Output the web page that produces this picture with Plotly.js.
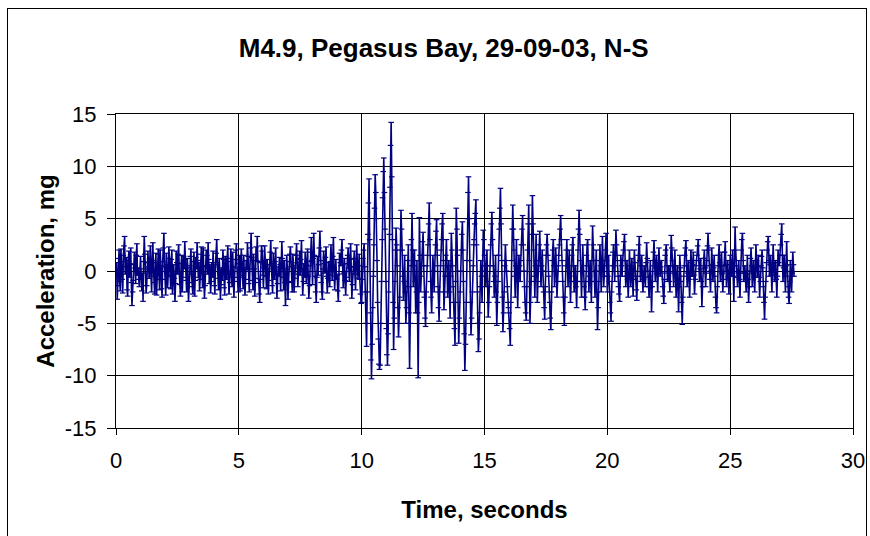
<!DOCTYPE html>
<html>
<head>
<meta charset="utf-8">
<script src="https://cdn.plot.ly/plotly-3.0.1.min.js"></script>
<style>
  html, body { margin: 0; padding: 0; background: #fff; }
  #wrap { position: relative; width: 870px; height: 536px; }
  #chart { width: 870px; height: 536px; }
  #frame { position: absolute; left: 7px; top: 8px; width: 858px; height: 540px; border: 1px solid #000; pointer-events: none; }
</style>
</head>
<body>
<div id="wrap">
  <div id="chart"></div>
  <div id="frame"></div>
</div>
<script>
// Sampling interval of the record (seconds) and start time
const sampleInterval = 0.025;
const startTime = 0;

// Acceleration (mg), one array per second of record
const acc00 = [-0.5, 0.8, -2.7, -1.4, 1.2, 2.0, -1.0, -1.9, 2.1, 0.9, -0.8, -2.1, 1.5, 2.4, 3.3, -0.3, 0.4, 1.3, -1.8, -2.4, 1.0, 1.9, -0.6, 0.7, 2.2, -1.1, -3.3, -2.0, -0.9, 0.6, 1.8, 0.3, -1.2, 1.5, 2.6, -0.4, 0.3, -0.8, -1.5, 0.2];
const acc01 = [1.4, -0.6, -1.9, -0.2, -2.9, 0.9, 3.3, 1.6, 0.2, -2.1, -1.4, 0.8, 1.9, 0.4, -0.7, 1.1, 2.4, -0.5, -2.0, 1.0, 2.7, 0.2, -1.1, -2.2, 0.8, 1.7, -2.3, -0.8, 1.6, 2.1, -0.4, -1.8, 2.0, 0.5, -1.7, -2.5, 0.9, 2.2, 3.6, 0.4];
const acc02 = [-0.8, -2.3, 1.7, 0.6, -1.6, -0.4, 2.3, 1.2, -0.5, -1.7, 1.1, 2.0, -2.2, -1.0, 0.6, -0.7, -2.9, -1.2, 1.9, 0.8, -0.3, 1.6, 2.5, -0.2, -1.3, -2.4, 0.7, 1.5, -2.0, -0.6, 1.4, 0.2, 2.8, 1.1, -0.9, -2.0, 1.2, 0.3, -2.9, -1.1];
const acc03 = [0.5, 1.4, 2.1, -0.3, -1.5, -2.2, 0.9, 1.8, -2.4, -0.9, 1.3, 0.2, 2.7, 1.0, -0.6, 0.8, -1.9, -0.8, 1.6, 2.3, -0.2, -1.6, 2.2, 0.5, -2.6, -1.4, 0.4, 2.0, 1.5, -0.3, 2.7, 1.1, -1.2, 0.6, -2.1, -1.0, 0.8, -0.6, 1.9, 0.4];
const acc04 = [-1.4, -2.2, 0.6, 1.7, 3.0, 0.8, -0.7, -1.8, 1.2, 0.1, -2.7, -1.3, 0.3, -0.9, 2.0, 1.1, -1.6, -2.3, 1.4, 0.5, -0.8, 1.2, 2.4, -0.6, -2.2, -1.1, 0.9, 2.1, -0.3, -1.5, 1.8, 0.4, -2.5, -0.6, 1.1, 2.0, 2.6, 0.3, -1.0, -2.0];
const acc05 = [0.7, 1.5, -1.9, -0.6, 2.1, 0.9, -0.4, -1.7, 1.5, 0.3, -2.3, -0.8, 1.0, 0.1, 2.7, 1.4, -1.2, -2.0, 0.2, 2.2, 3.6, 1.3, -0.9, -1.8, 1.6, 0.2, -2.4, -0.7, 2.3, 1.0, 3.3, 0.9, -1.1, -2.2, -3.0, -0.8, 0.8, 2.4, 1.9, -0.4];
const acc06 = [-1.6, 0.3, 2.4, 1.0, -0.5, -1.7, 1.1, 0.2, -2.2, -0.9, 0.6, 1.8, 2.9, 0.5, -1.4, -2.1, 1.7, 0.7, -0.8, 0.9, 2.2, -0.4, -2.6, -1.2, 0.4, -0.5, 1.3, 0.6, -1.9, 0.4, 2.8, 1.2, -0.6, -1.8, 1.0, -1.1, -3.3, -0.7, 1.5, 0.2];
const acc07 = [-2.7, -1.0, 0.9, 1.6, 2.3, 0.4, -1.1, -2.0, 1.6, 0.5, -2.0, -0.7, 0.3, 1.5, 2.6, 0.8, -1.5, -0.3, 1.2, 1.9, -0.4, 1.1, 2.9, 0.2, -2.3, -1.0, 0.7, -0.6, 1.8, 0.6, -1.2, 0.9, 2.1, -0.5, -2.6, -1.4, 0.5, 1.8, 3.2, 1.0];
const acc08 = [-1.3, 1.2, 3.6, 1.5, -0.5, -2.0, -3.0, -0.6, 1.4, -0.4, 0.6, 2.2, 3.8, 1.0, -1.1, -2.0, -2.7, 0.2, 1.9, 0.7, -0.2, 1.3, 2.3, -0.5, -2.1, -0.7, 0.8, -0.4, -1.5, 0.9, 2.5, 0.6, -0.9, 1.4, 3.2, 0.3, -1.8, -0.5, 1.1, -0.8];
const acc09 = [-0.4, -1.9, -2.9, -0.3, 1.7, 0.8, 0.5, 2.0, 3.0, 0.6, -1.6, -0.2, 1.2, -0.9, -2.3, -0.6, 0.7, 1.5, 2.2, 0.3, -1.0, 1.1, 2.6, 0.4, -2.6, -1.3, 0.4, 1.2, 1.9, -0.3, -1.8, 0.7, 2.5, 0.6, -0.7, 0.5, 1.6, -0.8, -2.2, -3.1];
const acc10 = [-3.0, -0.8, 1.2, 2.0, 2.6, 0.4, -2.0, -5.0, -7.2, -2.0, 3.5, 6.5, 8.8, 3.0, -4.0, -8.5, -10.3, -7.0, -3.5, -0.5, 2.5, 6.0, 9.2, 7.5, 5.0, 1.0, -3.0, -6.5, -8.9, -9.4, -9.0, -5.0, -1.0, 3.0, 7.0, 9.5, 10.8, 7.5, 4.0, -1.0];
const acc11 = [-5.5, -8.0, -9.0, -6.0, -2.0, 3.5, 8.0, 12.0, 14.2, 9.0, 3.0, -3.0, -7.5, -4.5, -1.0, 2.0, 4.1, 2.5, 0.5, -3.5, -6.3, -5.0, -2.5, 2.0, 5.8, 4.0, 2.0, -0.5, -2.8, -1.0, 1.5, -2.0, -5.0, -3.5, -1.5, 1.0, 2.5, -4.0, -9.3, -5.0];
const acc12 = [0.5, 3.0, 5.5, 2.0, -1.5, 0.5, 2.0, -1.0, -4.0, -2.0, 1.0, -4.0, -10.2, -3.0, 5.1, 1.5, -2.0, -0.5, 1.5, 2.8, 3.7, 0.5, -2.5, -4.5, -5.3, -2.0, 0.5, 1.5, 2.5, 4.5, 6.5, 3.0, -1.0, -2.5, -4.0, -1.0, 1.5, 0.0, -2.0, 0.5];
const acc13 = [2.5, 3.8, 4.9, 1.5, -1.5, -3.5, -4.8, -2.0, 0.5, 2.0, 3.0, 4.5, 5.5, 1.0, -3.7, -2.0, -0.5, 1.5, 3.0, 0.5, -2.5, -0.5, 1.0, -2.0, -4.5, -0.5, 3.6, 2.0, 0.5, -1.5, -3.0, -5.5, -7.1, -1.0, 6.0, 4.0, 1.5, -3.0, -6.9, -4.5];
const acc14 = [-2.0, 0.0, 2.0, 3.5, 4.7, 2.0, -1.0, -6.0, -9.5, -7.0, -3.0, 1.0, 5.0, 7.5, 9.0, 5.0, 1.0, -3.0, -6.1, -4.5, -2.0, 0.5, 2.5, 3.0, 4.5, 5.5, 6.8, 2.5, -2.0, -5.0, -7.7, -6.5, -4.0, -1.5, 1.0, -0.5, -3.0, 0.5, 3.9, 3.0];
const acc15 = [1.5, 0.0, -1.5, 0.5, 2.0, -1.0, -4.4, -3.0, -1.5, 0.5, 2.5, 4.5, 5.6, 3.0, 0.5, -1.0, -2.5, -0.5, 1.5, -2.0, -5.2, -3.0, -1.0, 1.5, 4.0, 6.0, 7.9, 4.5, 1.0, -2.5, -5.8, -4.0, -2.0, 0.5, 2.5, 1.0, 0.0, -1.5, -3.0, -3.5];
const acc16 = [-4.0, -5.5, -7.1, -3.0, 1.0, 4.0, 6.3, 4.0, 2.0, -0.5, -2.5, 0.5, 3.0, 0.0, -3.5, -1.0, 1.5, 0.5, -1.0, 1.0, 2.5, 4.0, 5.3, 2.5, 0.0, -1.5, -3.0, -4.0, -4.7, -1.5, 2.0, 4.5, 6.3, 1.0, -5.0, -3.0, -1.0, 3.5, 7.2, 4.5];
const acc17 = [2.0, -0.5, -2.5, 0.5, 3.5, 0.5, -3.0, -1.0, 1.0, 2.5, 3.8, 1.0, -1.5, 0.5, 2.0, 0.0, -2.0, -3.5, -4.6, -1.5, 1.5, 2.5, 3.5, 1.5, -0.5, -2.0, -3.0, -4.5, -5.6, -2.0, 1.0, 2.0, 3.0, 0.5, -1.5, 0.5, 2.2, 0.0, -2.5, -1.0];
const acc18 = [0.5, 1.5, 2.5, 4.0, 5.3, 3.0, 1.0, -1.0, -2.5, -4.0, -5.2, -2.5, 0.5, 2.0, 3.0, 1.0, -1.5, 0.5, 2.0, -0.5, -3.0, -1.0, 1.5, 2.5, 3.2, 0.5, -2.0, -1.0, 0.5, -1.5, -3.5, -1.0, 2.0, 4.0, 5.8, 3.5, 1.0, -1.0, -2.5, 0.0];
const acc19 = [2.5, 0.5, -1.5, -2.5, -3.7, -1.0, 1.5, 2.5, 3.0, 0.5, -2.0, -0.5, 1.0, -1.0, -3.0, 1.0, 4.3, 2.5, 1.0, -1.0, -2.5, 0.0, 2.0, -2.0, -5.6, -3.5, -1.0, 1.0, 2.5, 0.5, -2.0, 0.5, 3.3, 1.0, -1.5, -0.5, 0.5, 2.0, 3.6, 1.0];
const acc20 = [-2.0, -0.5, 1.5, -1.0, -3.0, -4.0, -4.8, -2.0, 0.5, 1.8, 2.5, 0.5, -1.0, 1.5, 3.9, 2.5, 1.0, -0.5, -1.5, -2.2, -2.9, -0.5, 1.5, 0.5, -0.5, 1.0, 2.0, 2.8, 3.5, 1.0, -1.5, -0.5, 1.0, -0.8, -2.5, -0.5, 2.0, 0.5, -1.5, -0.3];
const acc21 = [1.2, -0.8, -2.4, 0.0, 2.0, 0.8, -0.5, -1.8, -2.8, -0.5, 1.5, 2.5, 3.3, 1.0, -1.0, 0.5, 1.5, -0.5, -2.0, -0.8, 0.5, -0.6, -1.5, 0.8, 2.7, 1.2, 0.0, -1.5, -2.5, -0.5, 1.0, -1.5, -3.9, -1.5, 0.5, 1.8, 2.9, 1.0, -1.0, 0.3];
const acc22 = [1.5, -0.3, -2.0, 0.2, 2.2, 0.8, -0.5, 0.4, 1.0, -0.2, -1.5, -2.4, -3.1, -0.8, 1.5, 2.0, 2.5, 0.5, -1.0, -0.2, 0.5, -1.0, -2.0, 0.5, 3.4, 2.2, 1.0, -0.2, -1.5, 0.5, 2.0, -0.3, -2.5, -1.0, 0.5, -1.5, -3.9, -1.5, 1.5, 0.3];
const acc23 = [-1.0, -3.0, -5.1, -2.5, -0.5, 0.5, 1.5, 2.2, 2.9, 0.5, -1.5, -0.2, 1.0, -0.8, -2.5, -0.5, 2.0, 0.8, -0.5, 0.6, 1.8, -0.4, -2.2, -0.8, 0.5, 1.0, 1.5, 2.4, 3.0, 1.0, -1.0, 0.2, 1.2, -1.0, -3.4, -1.5, 0.5, 1.2, 2.0, 0.3];
const acc24 = [-1.5, -0.2, 1.0, 2.4, 3.6, 2.0, 0.5, -0.8, -2.0, 0.0, 2.2, 0.6, -1.0, 0.3, 1.5, -0.5, -2.5, -3.5, -4.0, -1.5, 0.5, 1.5, 2.5, 0.8, -1.0, 0.5, 1.8, -0.2, -2.0, -0.8, 0.5, 1.8, 2.8, 0.6, -1.5, 0.0, 1.0, -0.6, -2.2, -0.5];
const acc25 = [1.5, 0.6, -0.5, 0.8, 2.0, -0.5, -2.9, 0.5, 4.2, 2.0, 0.5, -0.6, -1.5, -0.2, 1.0, -0.8, -2.5, -0.2, 2.0, 3.0, 3.6, 1.0, -1.0, -0.2, 0.5, -0.8, -2.0, -0.3, 1.5, -0.8, -3.0, -1.5, 0.0, 1.2, 2.2, 0.5, -1.5, -0.2, 1.0, -0.6];
const acc26 = [-2.0, 0.2, 2.5, 1.0, -0.5, 0.4, 1.5, -0.6, -2.5, -1.0, 0.5, 1.4, 2.0, 0.3, -1.5, -3.0, -4.6, -2.5, -1.0, 0.8, 2.0, 2.8, 3.3, 1.0, -0.5, 0.6, 1.5, -0.4, -2.0, 0.3, 2.5, 0.8, -1.0, 0.2, 1.0, -0.8, -2.5, -0.5, 2.0, 0.8];
const acc27 = [0.5, 1.5, 2.5, 3.5, 4.5, 1.5, -1.0, 0.3, 1.5, -0.5, -2.0, 0.5, 2.8, 0.6, -1.5, -2.5, -3.1, -1.0, 1.0, -0.5, -2.0, -0.2, 1.8, 0.6, -0.5];

const accel = [].concat(acc00, acc01, acc02, acc03, acc04, acc05, acc06, acc07, acc08, acc09,
  acc10, acc11, acc12, acc13, acc14, acc15, acc16, acc17, acc18, acc19,
  acc20, acc21, acc22, acc23, acc24, acc25, acc26, acc27);
const timeSec = accel.map((_, i) => +(startTime + i * sampleInterval).toFixed(3));

// Tick values and labels
const xTickVals = [0, 5, 10, 15, 20, 25, 30];
const xTickText = ['0', '5', '10', '15', '20', '25', '30'];
const yTickVals = [-15, -10, -5, 0, 5, 10, 15];
const yTickText = ['-15', '-10', '-5', '0', '5', '10', '15'];

const chartTitle = 'M4.9, Pegasus Bay, 29-09-03, N-S';
const xTitle = 'Time, seconds';
const yTitle = 'Acceleration, mg';

const FONT = 'Liberation Sans, Arial, Helvetica, sans-serif';

const trace = {
  x: timeSec,
  y: accel,
  type: 'scatter',
  mode: 'lines+markers',
  line: { color: '#000080', width: 1.6 },
  marker: { symbol: 'line-ew-open', size: 4, color: '#000080', line: { color: '#000080', width: 1.2 } },
  hoverinfo: 'x+y'
};

const layout = {
  width: 870,
  height: 536,
  margin: { l: 116, r: 17, t: 114, b: 108 },
  paper_bgcolor: '#ffffff',
  plot_bgcolor: '#ffffff',
  showlegend: false,
  font: { family: FONT, color: '#000' },
  title: {
    text: '<b>' + chartTitle + '</b>',
    font: { family: FONT, size: 26, color: '#000' },
    x: 0.51, xanchor: 'center', xref: 'container',
    y: 0.91, yanchor: 'middle', yref: 'container'
  },
  xaxis: {
    range: [0, 30],
    tickvals: xTickVals,
    ticktext: xTickText,
    showgrid: true,
    gridcolor: '#000000',
    gridwidth: 1,
    zeroline: false,
    showline: true,
    linecolor: '#000000',
    linewidth: 1,
    mirror: true,
    ticks: 'outside',
    ticklen: 6,
    tickcolor: '#000',
    tickfont: { family: FONT, size: 22, color: '#000' },
    ticklabelstandoff: 7,
    title: { text: '<b>' + xTitle + '</b>', font: { family: FONT, size: 24, color: '#000' }, standoff: 28 },
    automargin: false
  },
  yaxis: {
    range: [-15, 15],
    tickvals: yTickVals,
    ticktext: yTickText,
    showgrid: true,
    gridcolor: '#000000',
    gridwidth: 1,
    zeroline: false,
    showline: true,
    linecolor: '#000000',
    linewidth: 1,
    mirror: true,
    ticks: 'outside',
    ticklen: 8,
    tickcolor: '#000',
    tickfont: { family: FONT, size: 22, color: '#000' },
    ticklabelstandoff: 6,
    title: { text: '<b>' + yTitle + '</b>', font: { family: FONT, size: 24, color: '#000' }, standoff: 3 },
    automargin: false
  }
};

Plotly.newPlot('chart', [trace], layout, { displayModeBar: false, staticPlot: true });
</script>
</body>
</html>
